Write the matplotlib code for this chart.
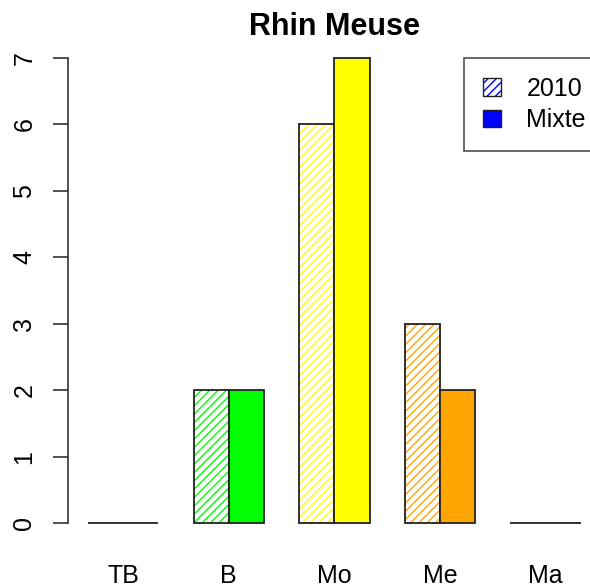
import numpy as np
import matplotlib.pyplot as plt
from matplotlib.patches import Patch

plt.rcParams['font.family'] = ['Liberation Sans', 'DejaVu Sans']
plt.rcParams['hatch.linewidth'] = 1.0

# data
categories = ['TB', 'B', 'Mo', 'Me', 'Ma']
values_2010 = [0, 2, 6, 3, 0]
values_mixte = [0, 2, 7, 2, 0]
colors = ['red', '#00FF00', '#FFFF00', '#FFA500', 'purple']
legend_labels = ['2010', 'Mixte']
title = 'Rhin Meuse'

fig = plt.figure(figsize=(5.9, 5.85), dpi=100)
# plot region runs a bit past the right edge, like the original
ax = fig.add_axes([68.3 / 590, 1 - 541.6 / 585, 532.2 / 590, 502.2 / 585])

# R-style beside barplot: space 1 before each group, bar width 1
left_2010 = np.arange(len(categories)) * 3 + 1
left_mixte = left_2010 + 1

for i in range(len(categories)):
    # hatched bar (hatch drawn in the edge colour), then black outline
    ax.bar(left_2010[i], values_2010[i], width=1, align='edge', facecolor='white',
           edgecolor=colors[i], hatch='////', linewidth=0)
    ax.bar(left_2010[i], values_2010[i], width=1, align='edge', fill=False,
           edgecolor='#222222', linewidth=1.3)
    ax.bar(left_mixte[i], values_mixte[i], width=1, align='edge', facecolor=colors[i],
           edgecolor='#222222', linewidth=1.3)

ax.set_xlim(0.44, 15.56)
ax.set_ylim(-0.28, 7.28)

for s in ['top', 'right', 'bottom']:
    ax.spines[s].set_visible(False)
ax.spines['left'].set_bounds(0, 7)
ax.spines['left'].set_color('#333333')
ax.spines['left'].set_linewidth(1.2)

ax.set_yticks(range(8))
ax.tick_params(axis='y', length=11, width=1.2, color='#333333', pad=12, labelsize=18)
for lab in ax.get_yticklabels():
    lab.set_rotation(90)
    lab.set_va('center')

ax.set_xticks(left_2010 + 1)
ax.set_xticklabels(categories)
ax.tick_params(axis='x', length=0, pad=16, labelsize=18)

# title centred over the plot region, baseline ~35px from the top
fig.text(334.4 / 590, 1 - 35 / 585, title, fontsize=22, fontweight='bold',
         ha='center', va='baseline')

hatch_box = (Patch(facecolor='white', edgecolor='blue', hatch='////', linewidth=0),
             Patch(fill=False, edgecolor='#222222', linewidth=1))
solid_box = Patch(facecolor='blue', edgecolor='#222222', linewidth=1)
leg = ax.legend([hatch_box, solid_box], legend_labels, loc='upper left',
                bbox_to_anchor=(0.7435, 0.963),
                fontsize=18, frameon=True, fancybox=False, edgecolor='#222222',
                handlelength=0.75, handleheight=0.7, handletextpad=1.0,
                borderpad=0.75, labelspacing=0.3, borderaxespad=0)
leg.get_frame().set_linewidth(1.2)

fig.savefig('out.png', dpi=100)
